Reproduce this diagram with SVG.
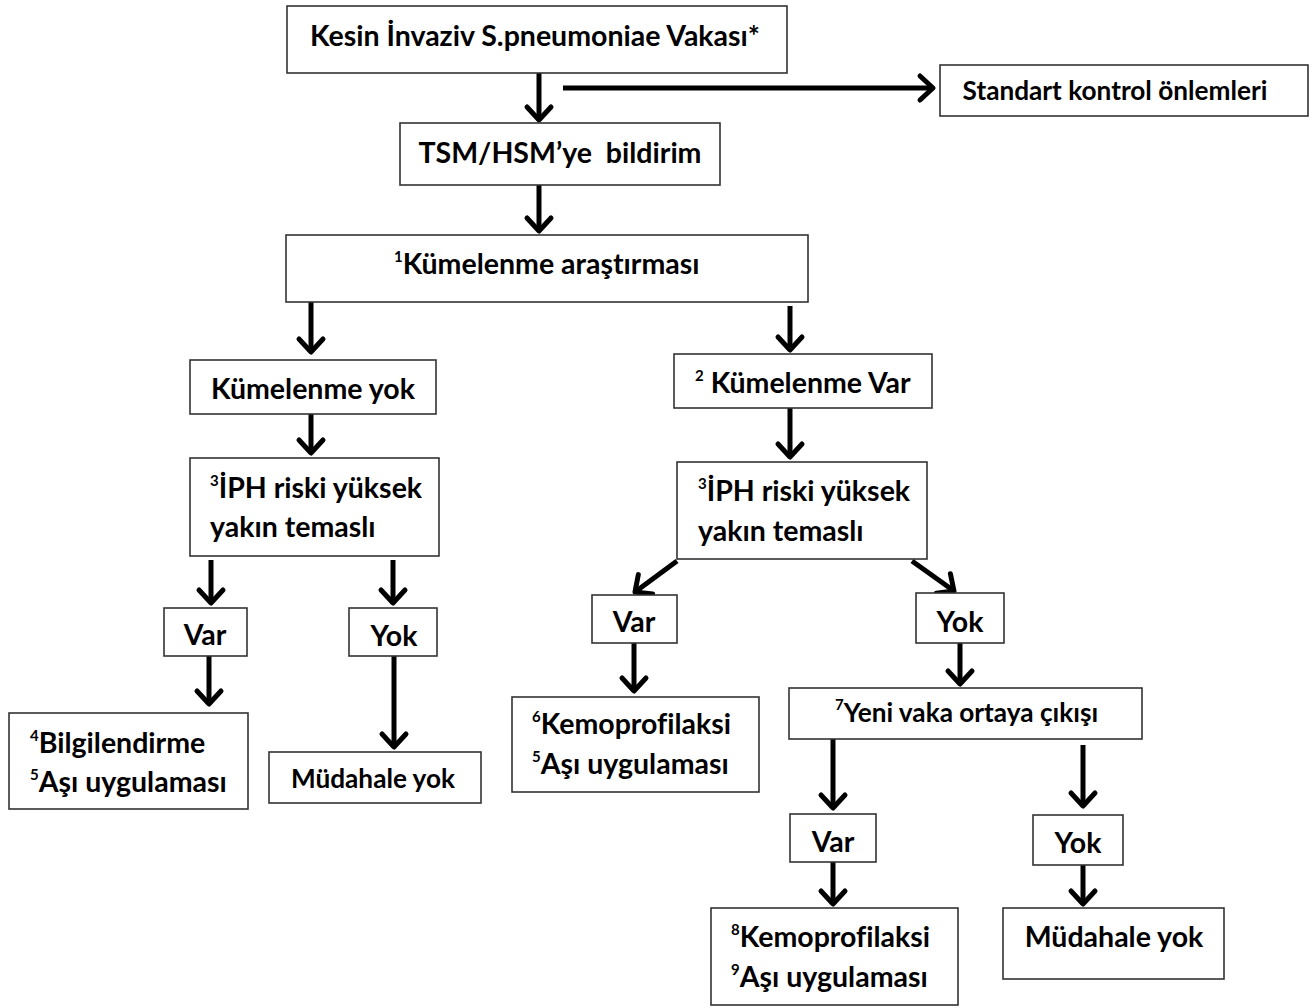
<svg xmlns="http://www.w3.org/2000/svg" width="1314" height="1008" viewBox="0 0 1314 1008">
<style>
rect.b{fill:#fff;stroke:#333;stroke-width:1.6}
text{font-family:Lato,"Open Sans","Liberation Sans",sans-serif;font-weight:bold;font-size:28.5px;fill:#000;font-variant-ligatures:none}
text.s{font-size:26.2px}
.sup{font-size:15px}
.c{stroke:#000;stroke-width:5;fill:none;marker-end:url(#ah)}
</style>
<defs>
<marker id="ah" markerUnits="userSpaceOnUse" markerWidth="40" markerHeight="40" viewBox="-20 -20 40 40" refX="0" refY="0" orient="auto">
<path d="M-13,-12 L0,0 L-13,12" fill="none" stroke="#000" stroke-width="5" stroke-linecap="round" stroke-linejoin="round"/>
</marker>
</defs>
<rect width="1314" height="1008" fill="#fff"/>
<g id="connectors">
<path class="c" d="M539,73 V120"/>
<path class="c" d="M563,88 H933"/>
<path class="c" d="M539,185 V231"/>
<path class="c" d="M311,302 V352"/>
<path class="c" d="M790,306 V350"/>
<path class="c" d="M311,414 V453"/>
<path class="c" d="M790,408 V457"/>
<path class="c" d="M211,560 V603"/>
<path class="c" d="M393,560 V603"/>
<path class="c" d="M209,656 V704"/>
<path class="c" d="M394,656 V747"/>
<path class="c" d="M677,561 L635,592"/>
<path class="c" d="M912,561 L954,591"/>
<path class="c" d="M634,643 V691"/>
<path class="c" d="M960,643 V684"/>
<path class="c" d="M833,739 V808"/>
<path class="c" d="M1083,745 V806"/>
<path class="c" d="M833,862 V904"/>
<path class="c" d="M1083,865 V904"/>
</g>
<g id="n1"><rect class="b" x="287" y="6" width="500" height="67"/><text x="535" y="46" text-anchor="middle">Kesin İnvaziv S.pneumoniae Vakası*</text></g>
<g id="n2"><rect class="b" x="940" y="65" width="368" height="51"/><text class="s" x="1115" y="100" text-anchor="middle">Standart kontrol önlemleri</text></g>
<g id="n3"><rect class="b" x="400" y="123" width="320" height="62"/><text x="560" y="163" text-anchor="middle" xml:space="preserve">TSM/HSM’ye  bildirim</text></g>
<g id="n4"><rect class="b" x="286" y="235" width="522" height="67"/><text x="394" y="274"><tspan class="sup" dy="-12">1</tspan><tspan dy="12">Kümelenme araştırması</tspan></text></g>
<g id="n5"><rect class="b" x="190" y="360" width="246" height="54"/><text x="313" y="399" text-anchor="middle">Kümelenme yok</text></g>
<g id="n6"><rect class="b" x="674" y="354" width="258" height="54"/><text x="695" y="393"><tspan class="sup" dy="-12">2</tspan><tspan dy="12"> Kümelenme Var</tspan></text></g>
<g id="n7"><rect class="b" x="190" y="458" width="249" height="98"/><text x="210" y="498"><tspan class="sup" dy="-12">3</tspan><tspan dy="12">İPH riski yüksek</tspan></text><text x="210" y="537">yakın temaslı</text></g>
<g id="n8"><rect class="b" x="677" y="462" width="250" height="97"/><text x="698" y="501"><tspan class="sup" dy="-12">3</tspan><tspan dy="12">İPH riski yüksek</tspan></text><text x="698" y="541">yakın temaslı</text></g>
<g id="n9"><rect class="b" x="164" y="608" width="83" height="48"/><text x="205" y="645" text-anchor="middle">Var</text></g>
<g id="n10"><rect class="b" x="349" y="608" width="88" height="48"/><text x="394" y="646" text-anchor="middle">Yok</text></g>
<g id="n11"><rect class="b" x="9" y="713" width="239" height="96"/><text x="30" y="753"><tspan class="sup" dy="-12">4</tspan><tspan dy="12">Bilgilendirme</tspan></text><text x="30" y="792"><tspan class="sup" dy="-12">5</tspan><tspan dy="12">Aşı uygulaması</tspan></text></g>
<g id="n12"><rect class="b" x="269" y="752" width="212" height="51"/><text class="s" x="373" y="788" text-anchor="middle">Müdahale yok</text></g>
<g id="n13"><rect class="b" x="592" y="595" width="85" height="48"/><text x="634" y="632" text-anchor="middle">Var</text></g>
<g id="n14"><rect class="b" x="916" y="593" width="88" height="50"/><text x="960" y="632" text-anchor="middle">Yok</text></g>
<g id="n15"><rect class="b" x="512" y="697" width="247" height="95"/><text x="532" y="734"><tspan class="sup" dy="-12">6</tspan><tspan dy="12">Kemoprofilaksi</tspan></text><text x="532" y="774"><tspan class="sup" dy="-12">5</tspan><tspan dy="12">Aşı uygulaması</tspan></text></g>
<g id="n16"><rect class="b" x="789" y="688" width="353" height="51"/><text class="s" x="835" y="722"><tspan class="sup" dy="-12">7</tspan><tspan dy="12">Yeni vaka ortaya çıkışı</tspan></text></g>
<g id="n17"><rect class="b" x="790" y="814" width="86" height="48"/><text x="833" y="852" text-anchor="middle">Var</text></g>
<g id="n18"><rect class="b" x="1033" y="815" width="90" height="50"/><text x="1078" y="853" text-anchor="middle">Yok</text></g>
<g id="n19"><rect class="b" x="711" y="908" width="247" height="97"/><text x="731" y="947"><tspan class="sup" dy="-12">8</tspan><tspan dy="12">Kemoprofilaksi</tspan></text><text x="731" y="987"><tspan class="sup" dy="-12">9</tspan><tspan dy="12">Aşı uygulaması</tspan></text></g>
<g id="n20"><rect class="b" x="1003" y="908" width="221" height="71"/><text x="1114" y="947" text-anchor="middle">Müdahale yok</text></g>
</svg>
